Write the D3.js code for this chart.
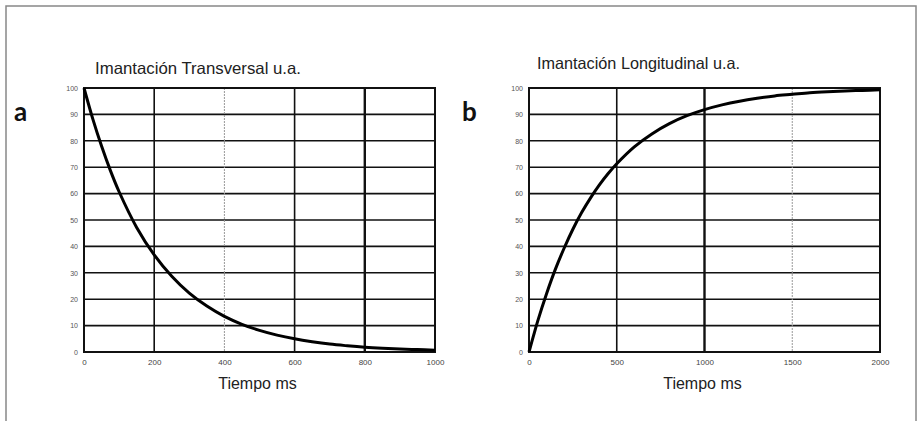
<!DOCTYPE html>
<html><head><meta charset="utf-8">
<script src="https://cdn.jsdelivr.net/npm/d3@7"></script>
<style>body{margin:0;background:#fff}svg{display:block}</style>
</head><body>
<svg id="c" width="922" height="421"></svg>
<script>
// Panel a: transverse magnetization
const timeA = [0,25,50,75,100,150,200,250,300,350,400,450,500,550,600,650,700,750,800,850,900,950,1000];
const valA  = [100,88.3,78,68.8,60.7,47.2,36.8,28.7,22.3,17.4,13.5,10.5,8.2,6.4,5,3.9,3,2.35,1.8,1.4,1.1,0.9,0.7];
// Panel b: longitudinal magnetization
const timeB = [0,25,50,100,150,200,250,300,350,400,450,500,600,700,800,900,1000,1100,1200,1300,1400,1500,1600,1700,1800,1900,2000];
const valB  = [0,6,11.8,22.1,31.3,39.3,46.5,52.8,58.3,63.2,67.5,71.3,77.7,82.6,86.5,89.5,91.8,93.6,95,96.1,97,97.6,98.2,98.6,98.9,99.1,99.3];
const yTicks = [0,10,20,30,40,50,60,70,80,90,100];
const xTicksA = [0,200,400,600,800,1000];
const xTicksB = [0,500,1000,1500,2000];
const titleA = "Imantación Transversal u.a.";
const titleB = "Imantación Longitudinal u.a.";
const xLabel = "Tiempo ms";

const FONT = "'Liberation Sans', Arial, sans-serif";
const svg = d3.select("#c");
svg.append("rect").attr("x",6).attr("y",6).attr("width",910).attr("height",430)
  .attr("fill","none").attr("stroke","#888").attr("stroke-width",1.5);

function panel(o){
  const g = svg.append("g");
  const x = d3.scaleLinear().domain([0,o.xmax]).range([o.left,o.right]);
  const y = d3.scaleLinear().domain([0,100]).range([352,88]);
  g.selectAll(".h").data(yTicks).join("line")
    .attr("x1",o.left).attr("x2",o.right).attr("y1",d=>y(d)).attr("y2",d=>y(d))
    .attr("stroke","#111").attr("stroke-width",1.6);
  g.selectAll(".v").data(o.xticks).join("line")
    .attr("y1",88).attr("y2",352).attr("x1",d=>x(d)).attr("x2",d=>x(d))
    .attr("stroke",d=>d===o.light?"#999":"#111")
    .attr("stroke-width",d=>d===o.light?1:(d===o.thick?2.4:1.6))
    .attr("stroke-dasharray",d=>d===o.light?"2,1":null);
  g.append("rect").attr("x",o.left).attr("y",88).attr("width",o.right-o.left).attr("height",264)
    .attr("fill","none").attr("stroke","#111").attr("stroke-width",2);
  const ax = g.append("g").attr("transform","translate(0,352)")
    .call(d3.axisBottom(x).tickValues(o.xticks).tickFormat(d3.format("d")).tickSize(0).tickPadding(7));
  ax.select(".domain").remove();
  ax.selectAll("text").attr("font-family",FONT).attr("font-size",8).attr("fill","#444");
  const ay = g.append("g").attr("transform",`translate(${o.left},0)`)
    .call(d3.axisLeft(y).tickValues(yTicks).tickSize(0).tickPadding(6));
  ay.select(".domain").remove();
  ay.selectAll("text").attr("font-family",FONT).attr("font-size",7).attr("fill","#555");
  const pts = o.t.map((t,i)=>[t,o.v[i]]);
  g.append("path").datum(pts)
    .attr("d",d3.line().x(d=>x(d[0])).y(d=>y(d[1])).curve(d3.curveCatmullRom))
    .attr("fill","none").attr("stroke","#000").attr("stroke-width",3);
  g.append("text").attr("x",o.tx).attr("y",o.ty).text(o.title)
    .attr("font-family",FONT).attr("font-size",16.5).attr("fill","#222")
    .attr("textLength",o.tw).attr("lengthAdjust","spacingAndGlyphs");
  g.append("text").attr("x",(o.left+o.right)/2+o.xlOff).attr("y",389).attr("text-anchor","middle")
    .text(xLabel).attr("font-family",FONT).attr("font-size",16).attr("fill","#222");
  g.append("text").attr("x",o.lx).attr("y",121).text(o.letter)
    .attr("font-family","Lato").attr("font-weight","bold").attr("font-size",26).attr("fill","#111");
}
panel({left:84,right:435,xmax:1000,xticks:xTicksA,light:400,thick:800,t:timeA,v:valA,
  title:titleA,tx:95,ty:74,tw:206,letter:"a",lx:14,xlOff:-2});
panel({left:529,right:880,xmax:2000,xticks:xTicksB,light:1500,thick:1000,t:timeB,v:valB,
  title:titleB,tx:537,ty:69,tw:203,letter:"b",lx:462,xlOff:-2});
</script>
</body></html>
